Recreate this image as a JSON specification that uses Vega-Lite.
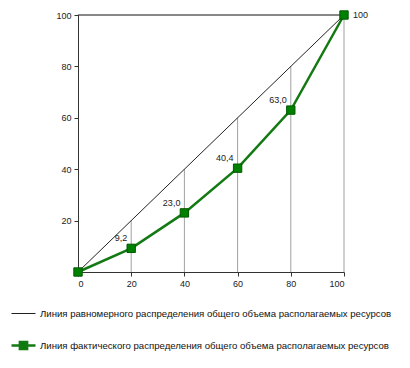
{
  "$schema": "https://vega.github.io/schema/vega-lite/v6.json",
  "autosize": {"type": "none"},
  "width": 266,
  "height": 257,
  "padding": {"left": 78, "top": 15, "right": 66, "bottom": 96},
  "background": "white",
  "config": {
    "view": {"stroke": null},
    "font": "Liberation Sans",
    "axis": {"grid": false, "labelFontSize": 9, "labelColor": "#222", "domainColor": "#333", "tickColor": "#333", "tickSize": 4, "labelPadding": 3}
  },
  "datasets": {
    "grid": [{"x": 20}, {"x": 40}, {"x": 60}, {"x": 80}, {"x": 100}],
    "lines": [
      {"series": "Линия равномерного распределения общего объема располагаемых ресурсов", "x": 0, "y": 0, "lab": ""},
      {"series": "Линия равномерного распределения общего объема располагаемых ресурсов", "x": 100, "y": 100, "lab": ""},
      {"series": "Линия фактического распределения общего объема располагаемых ресурсов", "x": 0, "y": 0, "lab": ""},
      {"series": "Линия фактического распределения общего объема располагаемых ресурсов", "x": 20, "y": 9.2, "lab": "9,2"},
      {"series": "Линия фактического распределения общего объема располагаемых ресурсов", "x": 40, "y": 23.0, "lab": "23,0"},
      {"series": "Линия фактического распределения общего объема располагаемых ресурсов", "x": 60, "y": 40.4, "lab": "40,4"},
      {"series": "Линия фактического распределения общего объема располагаемых ресурсов", "x": 80, "y": 63.0, "lab": "63,0"},
      {"series": "Линия фактического распределения общего объема располагаемых ресурсов", "x": 100, "y": 100, "lab": "100"}
    ]
  },
  "layer": [
    {
      "data": {"name": "grid"},
      "mark": {"type": "rule", "color": "#a0a0a0", "strokeWidth": 1},
      "encoding": {
        "x": {"field": "x", "type": "quantitative", "scale": {"domain": [0, 100]}, "axis": {"values": [0, 20, 40, 60, 80, 100], "title": null}},
        "y": {"field": "x", "type": "quantitative", "scale": {"domain": [0, 100]}, "axis": {"values": [20, 40, 60, 80, 100], "title": null}},
        "y2": {"datum": 0}
      }
    },
    {
      "data": {"name": "grid"},
      "transform": [{"filter": "datum.x == 100"}],
      "mark": {"type": "rule", "color": "#111", "strokeWidth": 1},
      "encoding": {
        "y": {"datum": 100, "type": "quantitative"}
      }
    },
    {
      "data": {"name": "lines"},
      "mark": {"type": "line"},
      "encoding": {
        "x": {"field": "x", "type": "quantitative"},
        "y": {"field": "y", "type": "quantitative"},
        "color": {
          "field": "series", "type": "nominal",
          "scale": {"domain": ["Линия равномерного распределения общего объема располагаемых ресурсов", "Линия фактического распределения общего объема располагаемых ресурсов"], "range": ["#222222", "#137a13"]},
          "legend": {
            "title": null, "orient": "none", "legendX": -68, "legendY": 286, "direction": "vertical",
            "labelFontSize": 9.6, "labelColor": "#111", "labelLimit": 500, "symbolSize": 576, "rowPadding": 13, "labelOffset": 3,
            "encode": {"symbols": {"update": {
              "shape": {"signal": "datum.index == 1 ? 'M-1,0H1M-0.3,-0.3H0.3V0.3H-0.3Z' : 'M-1,0H1'"},
              "fill": {"signal": "datum.index == 1 ? '#008000' : 'transparent'"}
            }}}
          }
        },
        "strokeWidth": {
          "field": "series", "type": "nominal",
          "scale": {"domain": ["Линия равномерного распределения общего объема располагаемых ресурсов", "Линия фактического распределения общего объема располагаемых ресурсов"], "range": [1, 2.5]}
        }
      }
    },
    {
      "data": {"name": "lines"},
      "transform": [{"filter": "datum.series == 'Линия фактического распределения общего объема располагаемых ресурсов'"}],
      "mark": {"type": "point", "shape": "square", "filled": true, "size": 70, "color": "#008000", "stroke": "#005a00", "strokeWidth": 1, "opacity": 1},
      "encoding": {
        "x": {"field": "x", "type": "quantitative"},
        "y": {"field": "y", "type": "quantitative"}
      }
    },
    {
      "data": {"name": "lines"},
      "transform": [{"filter": "datum.lab != '' && datum.x < 100"}],
      "mark": {"type": "text", "align": "right", "baseline": "middle", "dx": -4, "dy": -10, "fontSize": 9, "color": "#222"},
      "encoding": {
        "x": {"field": "x", "type": "quantitative"},
        "y": {"field": "y", "type": "quantitative"},
        "text": {"field": "lab"}
      }
    },
    {
      "data": {"name": "lines"},
      "transform": [{"filter": "datum.lab == '100'"}],
      "mark": {"type": "text", "align": "left", "baseline": "middle", "dx": 9, "dy": 0, "fontSize": 9, "color": "#222"},
      "encoding": {
        "x": {"field": "x", "type": "quantitative"},
        "y": {"field": "y", "type": "quantitative"},
        "text": {"field": "lab"}
      }
    }
  ]
}
